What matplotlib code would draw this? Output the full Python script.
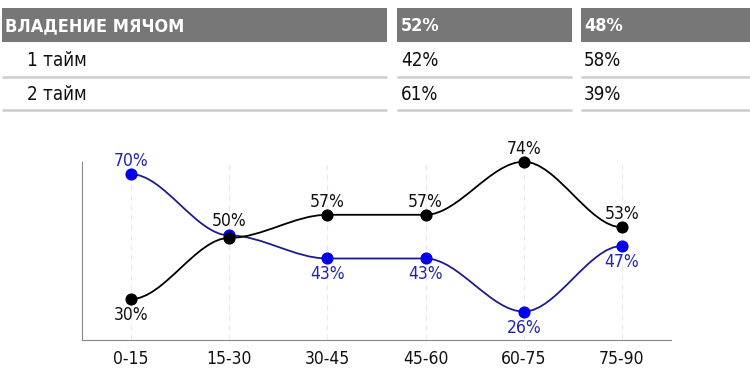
import numpy as np
import matplotlib
matplotlib.use('Agg')
import matplotlib.pyplot as plt
from matplotlib.path import Path
from matplotlib.patches import PathPatch, Rectangle

plt.rcParams['font.family'] = ['DejaVu Sans']
plt.rcParams['font.stretch'] = 'condensed'

# table data
header = ['ВЛАДЕНИЕ МЯЧОМ', '52%', '48%']
rows = [['1 тайм', '42%', '58%'],
        ['2 тайм', '61%', '39%']]

# chart data (15-30 both round to 50%)
periods = ['0-15', '15-30', '30-45', '45-60', '60-75', '75-90']
team_a = [30, 49.6, 57, 57, 74, 53]
team_b = [70, 50.4, 43, 43, 26, 47]


def smooth_path(x, y):
    # cubic bezier through the points, flat tangent at every point
    verts = [(x[0], y[0])]
    codes = [Path.MOVETO]
    for i in range(len(x) - 1):
        dx = (x[i + 1] - x[i]) / 3
        verts += [(x[i] + dx, y[i]), (x[i + 1] - dx, y[i + 1]), (x[i + 1], y[i + 1])]
        codes += [Path.CURVE4] * 3
    return Path(verts, codes)


fig = plt.figure(figsize=(7.5, 3.82), dpi=100)

# table drawn in pixel coordinates
tab = fig.add_axes([0, 0, 1, 1])
tab.set_xlim(0, 750)
tab.set_ylim(382, 0)
tab.axis('off')

cols = [(2, 387), (397, 572), (581, 750)]
text_x = [5, 401, 584]
for (x0, x1), tx, label in zip(cols, text_x, header):
    tab.add_patch(Rectangle((x0, 8), x1 - x0, 34, color='#777777', lw=0))
    tab.text(tx, 26, label, color='white', fontsize=13, fontweight='bold', va='center', ha='left')

row_x = [27, 401, 584]
for r, row in enumerate(rows):
    yc = 61 + r * 33
    for (x0, x1), tx, val in zip(cols, row_x, row):
        tab.text(tx, yc, val, color='#111111', fontsize=13.5, va='center', ha='left')
        tab.plot([x0, x1], [yc + 16, yc + 16], color='#cccccc', lw=1.8, solid_capstyle='butt')

# line chart
ax = fig.add_axes([82 / 750, 42 / 382, 589 / 750, 178 / 382])
xs = np.arange(len(periods))
ax.set_xlim(-0.5, len(periods) - 0.5)
ax.set_ylim(16.9, 73.9)

for x in xs:
    ax.axvline(x, color='#e8e8e8', lw=0.8, ls=(0, (5, 4)), zorder=0)

ax.add_patch(PathPatch(smooth_path(xs, team_b), fill=False, edgecolor='#1c1c8c', lw=1.3, clip_on=False))
ax.add_patch(PathPatch(smooth_path(xs, team_a), fill=False, edgecolor='#000000', lw=1.3, clip_on=False))
ax.scatter(xs, team_b, s=60, color='#0000ee', zorder=3, clip_on=False)
ax.scatter(xs, team_a, s=60, color='#000000', zorder=4, clip_on=False)

for x, a, b in zip(xs, team_a, team_b):
    if round(a) == round(b):
        ax.annotate(f'{a:.0f}%', (x, b), xytext=(0, 4), textcoords='offset points',
                    ha='center', va='bottom', fontsize=12.5, color='#111111')
        continue
    top, bot = (a, b) if a > b else (b, a)
    top_c, bot_c = ('#111111', '#2424a8') if a > b else ('#2424a8', '#111111')
    ax.annotate(f'{top:.0f}%', (x, top), xytext=(0, 3), textcoords='offset points',
                ha='center', va='bottom', fontsize=12.5, color=top_c)
    ax.annotate(f'{bot:.0f}%', (x, bot), xytext=(0, -5), textcoords='offset points',
                ha='center', va='top', fontsize=12.5, color=bot_c)

ax.set_xticks(xs)
ax.set_xticklabels(periods, fontsize=12.5, color='#111111')
ax.set_yticks([])
ax.tick_params(axis='x', length=0, pad=7)
for side in ['top', 'right']:
    ax.spines[side].set_visible(False)
ax.spines['left'].set_color('#888888')
ax.spines['bottom'].set_color('#888888')
ax.patch.set_alpha(0)

fig.savefig('out.png', dpi=100)
